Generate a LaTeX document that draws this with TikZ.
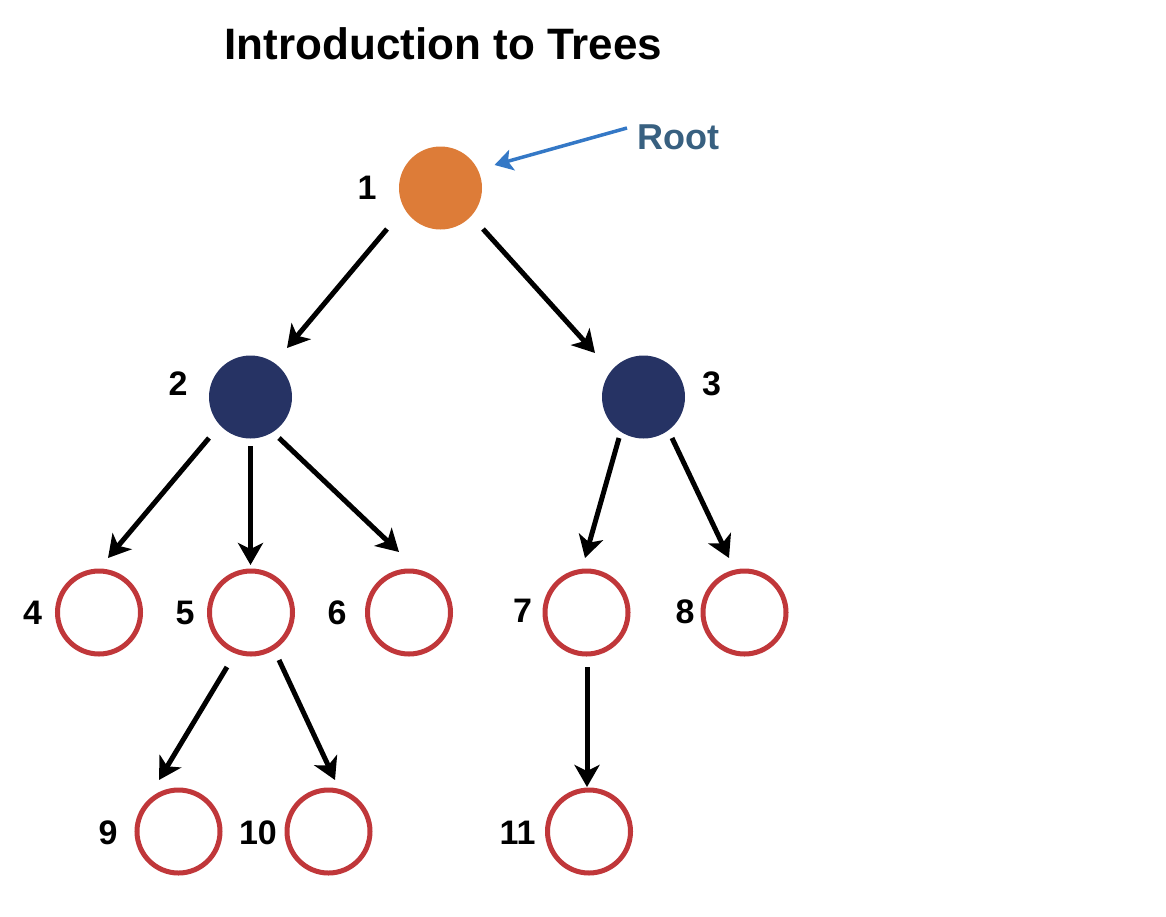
\documentclass[tikz,border=0pt]{standalone}
\usepackage{fontspec}
\setmainfont{Liberation Sans}
\usetikzlibrary{arrows.meta,calc}
\definecolor{rootorange}{HTML}{DD7C38}
\definecolor{navy}{HTML}{263364}
\definecolor{leafred}{HTML}{C0373A}
\definecolor{rootblue}{HTML}{3478C6}
\definecolor{roottext}{HTML}{386080}
\tikzset{
  filledroot/.style={circle, fill=rootorange, minimum size=83pt, inner sep=0pt},
  inner/.style={circle, fill=navy, minimum size=83pt, inner sep=0pt},
  leaf/.style={circle, draw=leafred, line width=5pt, minimum size=83pt, inner sep=0pt},
  lbl/.style={inner sep=0pt, font=\fontsize{34}{38}\selectfont\bfseries},
  arr/.style={line width=5pt, -{Stealth[length=22pt,width=25pt,inset=6pt]}},
  rootarr/.style={rootblue, line width=3.5pt, -{Stealth[length=18pt,width=21pt,inset=4pt]}}
}
\begin{document}
\begin{tikzpicture}[x=1pt,y=-1pt]
\useasboundingbox (0,0) rectangle (1166,916);
\node[inner sep=0pt, font=\fontsize{44}{50}\selectfont\bfseries] (title) at (443.5,44) {Introduction to Trees};

\node[filledroot] (n1) at (440.5,188) {};
\node[inner] (n2) at (250.5,397) {};
\node[inner] (n3) at (643.5,397) {};
\node[leaf] (n4) at (99,612.5) {};
\node[leaf] (n5) at (251,612.5) {};
\node[leaf] (n6) at (409,612.5) {};
\node[leaf] (n7) at (586.5,612.5) {};
\node[leaf] (n8) at (744.5,612.5) {};
\node[leaf] (n9) at (178.5,831.5) {};
\node[leaf] (n10) at (328.5,831.5) {};
\node[leaf] (n11) at (589,831.5) {};

\node[lbl] (l1) at (367,188) {1};
\node[lbl] (l2) at (178,384) {2};
\node[lbl] (l3) at (711.5,383.5) {3};
\node[lbl] (l4) at (32.5,612.5) {4};
\node[lbl] (l5) at (185,612.5) {5};
\node[lbl] (l6) at (337,612.5) {6};
\node[lbl] (l7) at (522.5,611) {7};
\node[lbl] (l8) at (685,612) {8};
\node[lbl] (l9) at (108,833) {9};
\node[lbl] (l10) at (258,832.5) {10};
\node[lbl] (l11) at (517.5,833) {11};

\node[inner sep=0pt, anchor=west, text=roottext, font=\fontsize{36}{40}\selectfont\bfseries] (root) at (637,137.5) {Root};
\draw[rootarr] ($(root.west)+(-10,-9.5)$) -- ($(n1)+(54,-23)$);

\draw[arr] ($(n1)+(-53.5,41)$) -- ($(n2)+(36.5,-49)$);
\draw[arr] ($(n1)+(42.5,41)$) -- ($(n3)+(-48.5,-44)$);
\draw[arr] ($(n2)+(-41.5,41)$) -- ($(n4)+(9,-54.5)$);
\draw[arr] ($(n2)+(0,49)$) -- ($(n5)+(-0.5,-47.5)$);
\draw[arr] ($(n2)+(28.5,41)$) -- ($(n6)+(-10,-60.5)$);
\draw[arr] ($(n3)+(-24.5,41)$) -- ($(n7)+(-1.5,-54.5)$);
\draw[arr] ($(n3)+(28.5,41)$) -- ($(n8)+(-15.5,-54.5)$);
\draw[arr] ($(n5)+(-24,54.5)$) -- ($(n9)+(-19.5,-51.5)$);
\draw[arr] ($(n5)+(28,47.5)$) -- ($(n10)+(6.5,-51.5)$);
\draw[arr] ($(n7)+(0.5,54.5)$) -- ($(n11)+(-2,-44.5)$);
\end{tikzpicture}
\end{document}
